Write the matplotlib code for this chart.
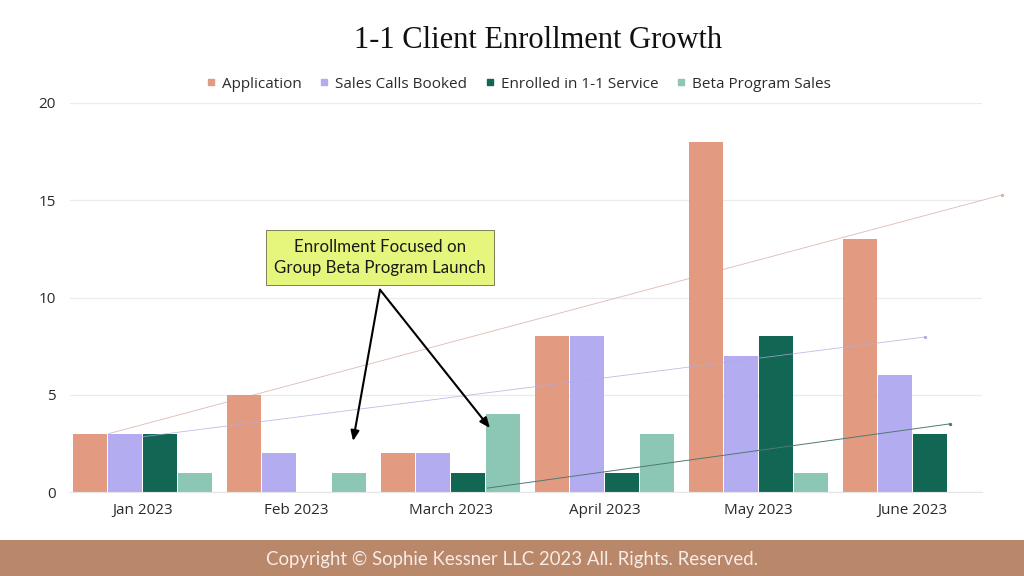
import matplotlib
matplotlib.use("Agg")
import matplotlib.pyplot as plt
from matplotlib.lines import Line2D
from matplotlib.patches import Rectangle
import numpy as np

# ---- data ----
months = ["Jan 2023", "Feb 2023", "March 2023", "April 2023", "May 2023", "June 2023"]
series_names = ["Application", "Sales Calls Booked", "Enrolled in 1-1 Service", "Beta Program Sales"]
application = [3, 5, 2, 8, 18, 13]
sales_calls = [3, 2, 2, 8, 7, 6]
enrolled = [3, 0, 1, 1, 8, 3]
beta_sales = [1, 1, 4, 3, 1, 0]
colors = ["#e29b80", "#b4acf0", "#116654", "#8cc6b5"]
yticks = [0, 5, 10, 15, 20]

# hand-drawn trend lines (start, end) in data units
trend_app = [(-0.22, 3.0), (5.58, 15.27)]
trend_sales = [(0.0, 2.84), (5.08, 7.97)]
trend_enrolled = [(2.24, 0.2), (5.24, 3.5)]

annotation_text = "Enrollment Focused on\nGroup Beta Program Launch"
title = "1-1 Client Enrollment Growth"
footer = "Copyright \u00a9 Sophie Kessner LLC 2023 All. Rights. Reserved."

plt.rcParams['font.family'] = ['Open Sans', 'DejaVu Sans']

fig = plt.figure(figsize=(10.24, 5.76), dpi=100)
fig.patch.set_facecolor("white")
ax = fig.add_axes([70/1024, 1-492/576, 912/1024, 389/576])

x = np.arange(len(months))
step = 0.2266
width = 0.22
all_series = [application, sales_calls, enrolled, beta_sales]
for i, (vals, c, name) in enumerate(zip(all_series, colors, series_names)):
    ax.bar(x + (i - 1.5) * step, vals, width=width, color=c, label=name, zorder=2)

ax.set_xlim(-0.471, 5.451)
ax.set_ylim(0, 20)
ax.set_yticks(yticks)
ax.set_xticks(x)
ax.set_xticklabels(months)
ax.tick_params(axis='both', length=0, labelsize=11, colors="#2b2b2b")
ax.tick_params(axis='y', pad=10)
ax.tick_params(axis='x', pad=8)
ax.yaxis.grid(True, color="#ebebeb", lw=0.9, zorder=0)
ax.set_axisbelow(True)
for s in ["top", "right", "left"]:
    ax.spines[s].set_visible(False)
ax.spines["bottom"].set_color("#e6e6e6")

# trend lines
for pts, c, lw, z, a in [(trend_app, "#d9b3aa", 0.6, 1.5, 0.9),
                         (trend_sales, "#b3abe0", 0.6, 3, 0.8),
                         (trend_enrolled, "#4f7a72", 0.7, 3, 1.0)]:
    (x0, y0), (x1, y1) = pts
    ax.plot([x0, x1], [y0, y1], color=c, lw=lw, zorder=z, alpha=a, clip_on=False)
    ax.plot([x1], [y1], 'o', ms=1.4, color=c, zorder=z, clip_on=False)

# annotation
box_xy = (1.542, 12.06)
arrow_start = (1.542, 10.4)
for target in [(1.367, 2.62), (2.256, 3.29)]:
    ax.annotate("", xy=target, xytext=arrow_start,
                arrowprops=dict(arrowstyle="-|>,head_length=0.6,head_width=0.25", color="black", lw=1.5,
                                shrinkA=0, shrinkB=0), zorder=5)
ax.text(box_xy[0], box_xy[1], annotation_text, ha="center", va="center", fontsize=12.2,
        family=["Lato", "DejaVu Sans"], color="#1a1a1a", linespacing=1.45, zorder=6,
        bbox=dict(boxstyle="square,pad=0.5", facecolor="#e6f57c", edgecolor="#6b6b4a", lw=0.6))

# legend
handles = [Line2D([0], [0], marker='s', linestyle='none', markersize=5, markerfacecolor=c,
                  markeredgecolor=c) for c in colors]
fig.legend(handles, series_names, loc="center", bbox_to_anchor=(0.505, 1-84/576), ncol=4,
           frameon=False, fontsize=11, handletextpad=0.2, columnspacing=1.0, handlelength=1.0,
           labelcolor="#2b2b2b")

# title
fig.text(0.525, 1-40/576, title, ha="center", va="center", fontsize=22,
         family=["Liberation Serif", "DejaVu Serif"], color="#111111")

# footer band
fig.patches.append(Rectangle((0, 0), 1, 36/576, transform=fig.transFigure, facecolor="#b9876a",
                             edgecolor="none", zorder=0))
fig.text(0.5, 1-559/576, footer, ha="center", va="center", fontsize=13.4, color="#f7ece5",
         family=["Lato", "DejaVu Sans"])

fig.savefig("out.png", dpi=100)
